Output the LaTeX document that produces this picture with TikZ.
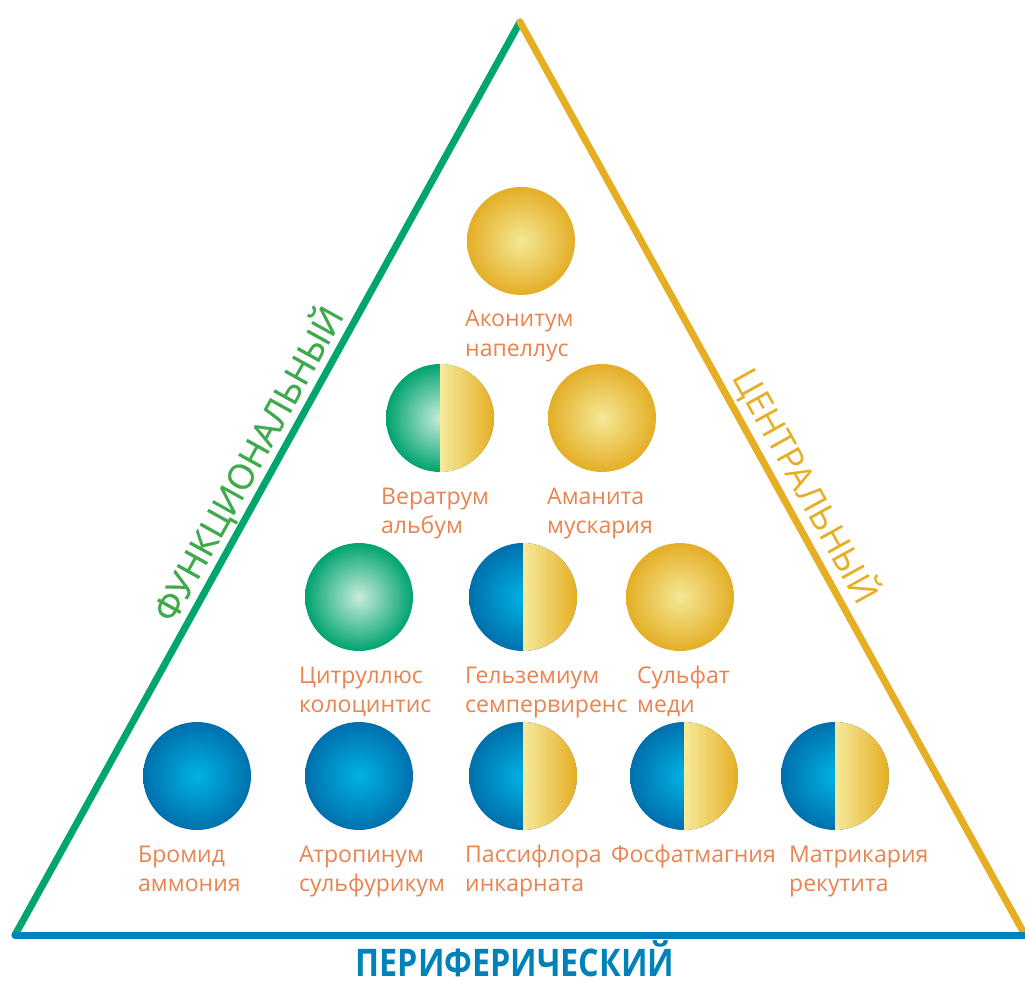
\documentclass[tikz,border=0pt]{standalone}
\usepackage{fontspec}
\setmainfont{Open Sans}
\usetikzlibrary{calc}
\definecolor{blueC}{RGB}{0,178,228}
\definecolor{blueE}{RGB}{0,112,172}
\definecolor{greenC}{RGB}{200,236,218}
\definecolor{greenE}{RGB}{0,163,112}
\definecolor{goldC}{RGB}{244,232,150}
\definecolor{goldE}{RGB}{228,174,38}
\definecolor{halfL}{RGB}{246,234,155}
\definecolor{halfR}{RGB}{229,174,35}
\definecolor{lineG}{RGB}{0,166,110}
\definecolor{lineY}{RGB}{230,175,35}
\definecolor{lineB}{RGB}{0,130,185}
\definecolor{txtG}{RGB}{62,170,75}
\definecolor{txtO}{RGB}{233,131,79}
\tikzset{
  ball/.style={circle, minimum size=108pt, inner sep=0pt, shade, inner color=#1C, outer color=#1E},
  halfball/.style={circle, minimum size=108pt, inner sep=0pt,
    path picture={
      \shade[inner color=#1C, outer color=#1E] (path picture bounding box.center) circle[radius=54pt];
      \shade[left color=halfL, right color=halfR] (path picture bounding box.north) rectangle (path picture bounding box.south east);
    }},
  lbl/.style={anchor=base west, inner sep=0pt, align=left, text=txtO, font=\fontsize{23}{29}\selectfont},
  edge/.style={line width=7pt, line cap=round},
  side/.style={anchor=base, inner sep=0pt, font=\fontsize{35}{35}\selectfont}
}
\begin{document}
\begin{tikzpicture}[x=1pt,y=-1pt]
\useasboundingbox (0,0) rectangle (1025,981);
\clip (0,0) rectangle (1025,981);
% triangle corners
\coordinate (A) at (520,22);
\coordinate (L) at (15,935);
\coordinate (R) at (1025,935);
\coordinate (R2) at (1040,935);
\draw[edge, lineG] (L) -- (A);
\draw[edge, lineY] (A) -- (R);
\draw[edge, lineB] (L) -- (R2);
% balls
\node[ball=gold] (b11) at (521,241) {};
\node[halfball=green] (b21) at (440,418) {};
\node[ball=gold] (b22) at (602,418) {};
\node[ball=green] (b31) at (359,597) {};
\node[halfball=blue] (b32) at (523,597) {};
\node[ball=gold] (b33) at (680,597) {};
\node[ball=blue] (b41) at (197,776) {};
\node[ball=blue] (b42) at (359,776) {};
\node[halfball=blue] (b43) at (523,776) {};
\node[halfball=blue] (b44) at (684,776) {};
\node[halfball=blue] (b45) at (835,776) {};
% labels (anchor = baseline of last line)
\node[lbl] (t11) at (465,356) {Аконитум\\напеллус};
\node[lbl] (t21) at (381,533) {Вератрум\\альбум};
\node[lbl] (t22) at (547,533) {Аманита\\мускария};
\node[lbl] (t31) at (299,712) {Цитруллюс\\колоцинтис};
\node[lbl] (t32) at (465,712) {Гельземиум\\семпервиренс};
\node[lbl] (t33) at (637,712) {Сульфат\\меди};
\node[lbl] (t41) at (138,891) {Бромид\\аммония};
\node[lbl] (t42) at (299,891) {Атропинум\\сульфурикум};
\node[lbl] (t43) at (465,891) {Пассифлора\\инкарната};
\node[lbl] (t44) at (611,862) {Фосфатмагния};
\node[lbl] (t45) at (789,891) {Матрикария\\рекутита};
% side labels
\node[side, text=txtG, rotate=61] (fun) at (259,470) {\addfontfeature{FakeBold=0.6}ФУНКЦИОНАЛЬНЫЙ};
\node[side, text=lineY, rotate=-61] (cen) at (795,492) {ЦЕНТРАЛЬНЫЙ};
\node[anchor=base, inner sep=0pt, text=lineB] (per) at (515,976) {\scalebox{0.85}[1]{\fontsize{38}{38}\selectfont\bfseries ПЕРИФЕРИЧЕСКИЙ}};
\end{tikzpicture}
\end{document}
